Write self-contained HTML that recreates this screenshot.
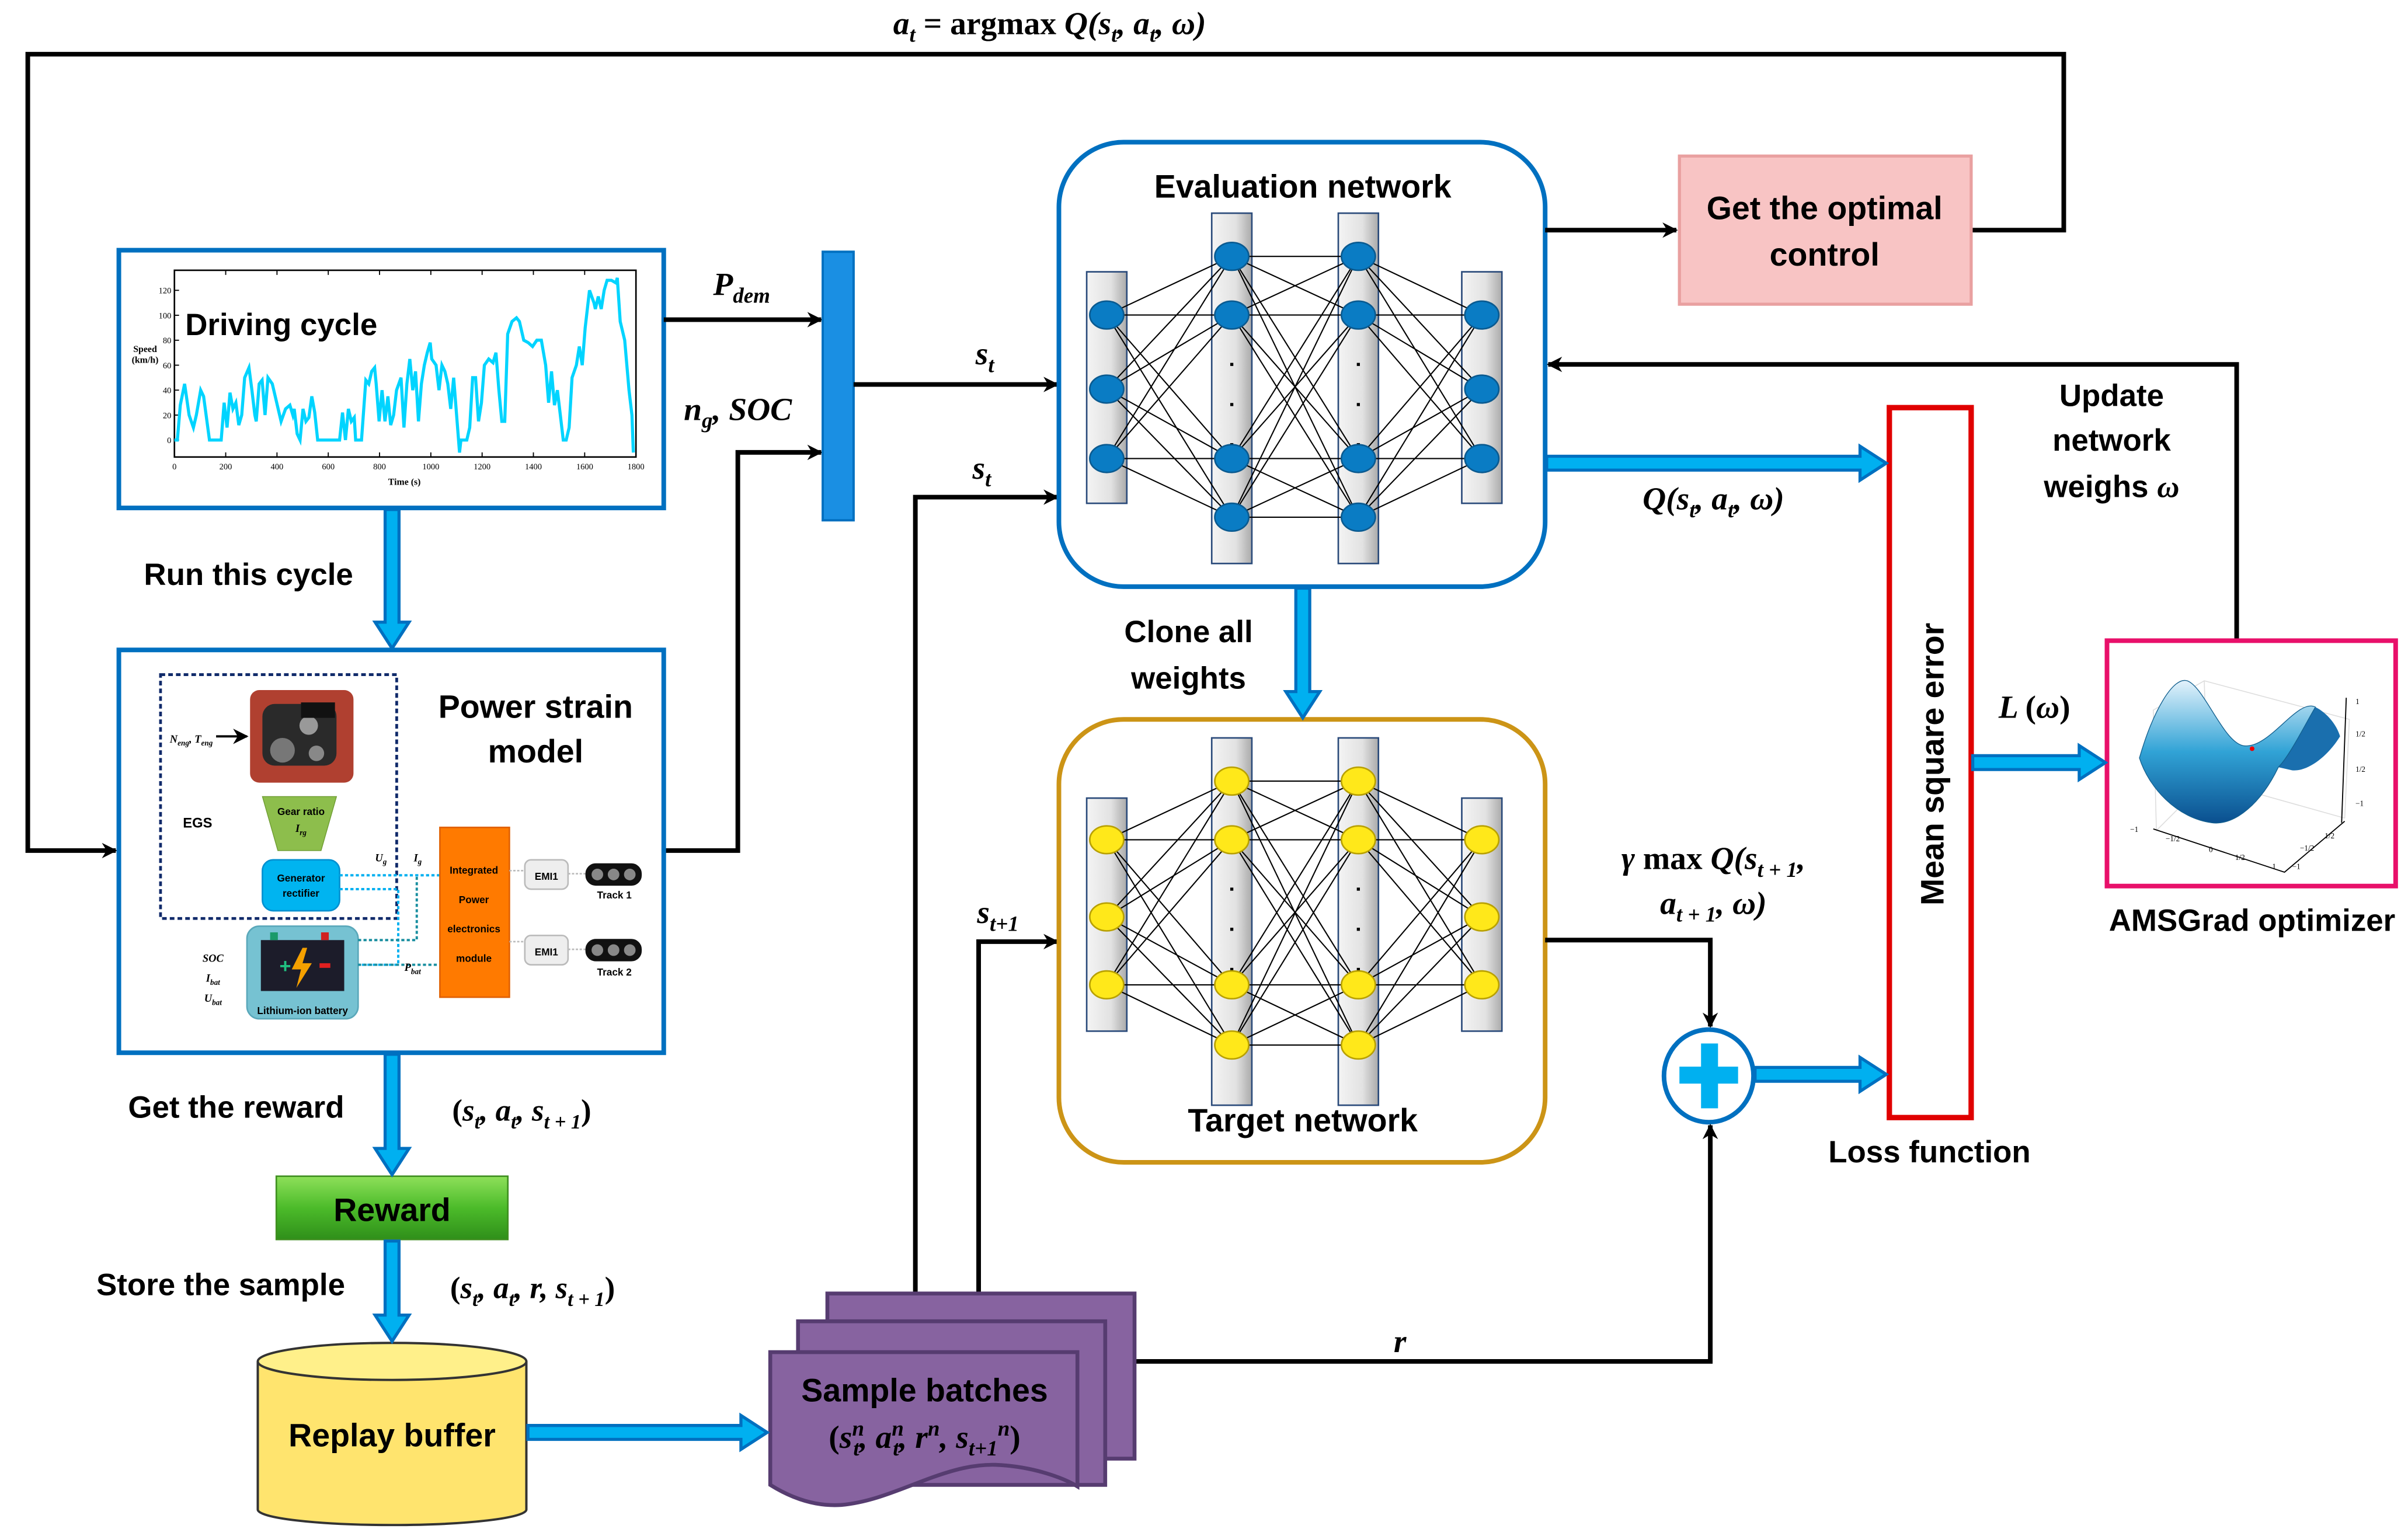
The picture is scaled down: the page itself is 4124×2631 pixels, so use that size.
<!DOCTYPE html>
<html><head><meta charset="utf-8">
<style>
html,body{margin:0;padding:0;background:#fff;width:4124px;height:2631px;overflow:hidden}
svg{display:block}
.b{font-family:"Liberation Sans",sans-serif;font-weight:bold;fill:#000}
.m{font-family:"Liberation Serif",serif;font-weight:bold;font-style:italic;fill:#000}
.n{font-family:"Liberation Serif",serif;font-weight:bold;fill:#000}
</style></head><body>
<svg id="s" width="4124" height="2631" viewBox="0 0 1560 995" xmlns="http://www.w3.org/2000/svg">
<defs>
<marker id="ah" markerWidth="10" markerHeight="10" refX="9" refY="5" orient="auto" markerUnits="userSpaceOnUse" viewBox="0 0 10 10">
<path d="M0,0 L10,5 L0,10 L3,5 z" fill="#000"/></marker>
<linearGradient id="gr" x1="0" y1="0" x2="0" y2="1"><stop offset="0" stop-color="#8ee05a"/><stop offset="0.5" stop-color="#4cbb2a"/><stop offset="1" stop-color="#2f8f1a"/></linearGradient>
<linearGradient id="sad" x1="0" y1="0" x2="0" y2="1"><stop offset="0" stop-color="#e4f2fb"/><stop offset="0.5" stop-color="#31a3d6"/><stop offset="1" stop-color="#0a4f8f"/></linearGradient>
<linearGradient id="bar" x1="0" y1="0" x2="1" y2="0"><stop offset="0" stop-color="#f4f4f4"/><stop offset="0.6" stop-color="#e2e2e2"/><stop offset="1" stop-color="#aaa"/></linearGradient>
</defs>

<polyline points="1277,149 1337,149 1337,35 18,35 18,551 75,551" fill="none" stroke="#000" stroke-width="3" marker-end="url(#ah)"/>
<text x="680" y="22" text-anchor="middle" class="m" font-size="21"><tspan>a</tspan><tspan font-size="14" dy="5">t</tspan><tspan dy="-5" font-style="normal"> = argmax </tspan><tspan>Q(s</tspan><tspan font-size="14" dy="5">t</tspan><tspan dy="-5">, a</tspan><tspan font-size="14" dy="5">t</tspan><tspan dy="-5">, ω)</tspan></text>

<rect x="77" y="162" width="353" height="167" fill="#fff" stroke="#0070c0" stroke-width="3"/>
<rect x="113" y="175" width="299" height="121" fill="none" stroke="#000" stroke-width="1"/>
<g id="axis"></g>
<polyline id="cyc" fill="none" stroke="#00d4ff" stroke-width="2"/>
<text x="120" y="217" class="b" font-size="20">Driving cycle</text>
<text x="94" y="228" class="n" font-size="6" font-weight="normal" text-anchor="middle">Speed</text>
<text x="94" y="235" class="n" font-size="6" font-weight="normal" text-anchor="middle">(km/h)</text>
<text x="262" y="314" class="n" font-size="6" font-weight="normal" text-anchor="middle">Time (s)</text>

<line x1="430" y1="207" x2="532" y2="207" stroke="#000" stroke-width="3" marker-end="url(#ah)"/>
<text x="462" y="191" class="m" font-size="21">P<tspan font-size="14" dy="5">dem</tspan></text>
<polyline points="430,551 478,551 478,293 532,293" fill="none" stroke="#000" stroke-width="3" marker-end="url(#ah)"/>
<text x="443" y="272" class="m" font-size="21">n<tspan font-size="14" dy="5">g</tspan><tspan dy="-5">, SOC</tspan></text>
<rect x="533" y="163" width="20" height="174" fill="#1a8fe3" stroke="#0070c0" stroke-width="1.5"/>

<line x1="553" y1="249" x2="685" y2="249" stroke="#000" stroke-width="3" marker-end="url(#ah)"/>
<text x="632" y="236" class="m" font-size="21">s<tspan font-size="14" dy="5">t</tspan></text>
<polyline points="593,838 593,322 685,322" fill="none" stroke="#000" stroke-width="3" marker-end="url(#ah)"/>
<text x="630" y="310" class="m" font-size="21">s<tspan font-size="14" dy="5">t</tspan></text>
<polyline points="634,838 634,610 685,610" fill="none" stroke="#000" stroke-width="3" marker-end="url(#ah)"/>
<text x="633" y="598" class="m" font-size="21">s<tspan font-size="14" dy="5">t+1</tspan></text>

<rect x="686" y="92" width="315" height="288" rx="42" fill="#fff" stroke="#0070c0" stroke-width="3"/>
<text x="844" y="128" text-anchor="middle" class="b" font-size="21">Evaluation network</text>
<g id="net1"></g>
<rect x="686" y="466" width="315" height="287" rx="42" fill="#fff" stroke="#cc9416" stroke-width="3"/>
<text x="844" y="733" text-anchor="middle" class="b" font-size="21">Target network</text>
<g id="net2"></g>

<text x="770" y="416" text-anchor="middle" class="b" font-size="20">Clone all</text>
<text x="770" y="446" text-anchor="middle" class="b" font-size="20">weights</text>

<line x1="1001" y1="149" x2="1086" y2="149" stroke="#000" stroke-width="3" marker-end="url(#ah)"/>
<rect x="1088" y="101" width="189" height="96" fill="#f8c4c4" stroke="#e9a0a0" stroke-width="2"/>
<text x="1182" y="142" text-anchor="middle" class="b" font-size="21">Get the optimal</text>
<text x="1182" y="172" text-anchor="middle" class="b" font-size="21">control</text>

<polyline points="1449,415 1449,236 1003,236" fill="none" stroke="#000" stroke-width="3" marker-end="url(#ah)"/>
<text x="1368" y="263" text-anchor="middle" class="b" font-size="20">Update</text>
<text x="1368" y="292" text-anchor="middle" class="b" font-size="20">network</text>
<text x="1368" y="322" text-anchor="middle" class="b" font-size="20">weighs <tspan class="m">ω</tspan></text>

<text x="1110" y="330" text-anchor="middle" class="m" font-size="21">Q(s<tspan font-size="14" dy="5">t</tspan><tspan dy="-5">, a</tspan><tspan font-size="14" dy="5">t</tspan><tspan dy="-5">, ω)</tspan></text>

<rect x="1224" y="264" width="53" height="460" fill="#fff" stroke="#e00000" stroke-width="3.5"/>
<text transform="translate(1259,495) rotate(-90)" text-anchor="middle" class="b" font-size="21">Mean square error</text>
<text x="1250" y="753" text-anchor="middle" class="b" font-size="20">Loss function</text>
<text x="1318" y="465" text-anchor="middle" class="m" font-size="21">L <tspan font-style="normal">(</tspan>ω<tspan font-style="normal">)</tspan></text>

<rect x="1365" y="415" width="187" height="159" fill="#fff" stroke="#e8106a" stroke-width="3"/>
<g stroke="#ddd" stroke-width="0.6" fill="none">
<polyline points="1397,538 1395,460 1428,441 1522,466 1519,530"/>
<line x1="1428" y1="441" x2="1430" y2="505"/>
<line x1="1430" y1="505" x2="1397" y2="538"/><line x1="1430" y1="505" x2="1519" y2="530"/>
</g>
<path d="M1476,497 C1485,480 1495,456 1500,458 C1508,462 1514,470 1516,477 C1508,490 1495,500 1485,499 Z" fill="#1a6fae"/>
<path d="M1386,491 C1395,460 1408,438 1417,441 C1428,445 1440,480 1453,483 C1470,486 1488,452 1500,458 C1493,470 1483,490 1476,497 C1465,520 1448,535 1433,533 C1410,530 1392,510 1386,491 Z" fill="url(#sad)" stroke="#13608f" stroke-width="0.5"/>
<circle cx="1459" cy="485" r="1.5" fill="#e00"/>
<g stroke="#000" stroke-width="0.7" fill="none"><polyline points="1395,537 1480,565 1519,532"/><line x1="1520" y1="452" x2="1517" y2="533"/></g>
<g font-family="Liberation Serif" font-size="5" fill="#000"><text x="1380" y="539">−1</text><text x="1403" y="545">−1/2</text><text x="1431" y="552">0</text><text x="1448" y="557">1/2</text><text x="1472" y="563">1</text><text x="1485" y="563">−1</text><text x="1490" y="551">−1/2</text><text x="1506" y="543">1/2</text><text x="1526" y="456">1</text><text x="1526" y="477">1/2</text><text x="1526" y="500">1/2</text><text x="1526" y="522">−1</text></g>
<text x="1459" y="603" text-anchor="middle" class="b" font-size="20">AMSGrad optimizer</text>

<polyline points="1001,609 1108,609 1108,665" fill="none" stroke="#000" stroke-width="3" marker-end="url(#ah)"/>
<text x="1110" y="563" text-anchor="middle" class="m" font-size="21"><tspan>γ</tspan><tspan font-style="normal"> max </tspan>Q(s<tspan font-size="14" dy="5">t + 1</tspan><tspan dy="-5">,</tspan></text>
<text x="1110" y="592" text-anchor="middle" class="m" font-size="21">a<tspan font-size="14" dy="5">t + 1</tspan><tspan dy="-5">, ω)</tspan></text>
<ellipse cx="1107" cy="697" rx="29" ry="30" fill="#fff" stroke="#0070c0" stroke-width="3"/>
<rect x="1088" y="691" width="38" height="11" fill="#00b0f0"/>
<rect x="1102" y="676" width="11" height="42" fill="#00b0f0"/>
<polyline points="735,882 1108,882 1108,729" fill="none" stroke="#000" stroke-width="3" marker-end="url(#ah)"/>
<text x="907" y="876" text-anchor="middle" class="m" font-size="21">r</text>

<rect x="77" y="421" width="353" height="261" fill="#fff" stroke="#0070c0" stroke-width="3"/>
<text x="347" y="465" text-anchor="middle" class="b" font-size="21">Power strain</text>
<text x="347" y="494" text-anchor="middle" class="b" font-size="21">model</text>
<rect x="104" y="437" width="153" height="158" fill="none" stroke="#102a6a" stroke-width="1.8" stroke-dasharray="3,2"/>
<rect x="162" y="447" width="67" height="60" rx="6" fill="#b04030"/>
<g><rect x="170" y="456" width="48" height="40" rx="8" fill="#2a2a2a"/><circle cx="183" cy="486" r="8" fill="#777"/><circle cx="200" cy="470" r="6" fill="#999"/><rect x="195" y="455" width="22" height="10" fill="#111"/><circle cx="205" cy="488" r="5" fill="#888"/></g>
<text x="110" y="481" class="m" font-size="7" font-weight="normal">N<tspan font-size="5" dy="2">eng</tspan><tspan dy="-2">, T</tspan><tspan font-size="5" dy="2">eng</tspan></text>
<line x1="140" y1="477" x2="160" y2="477" stroke="#000" stroke-width="1.5" marker-end="url(#ah)"/>
<polygon points="170,516 218,516 208,551 180,551" fill="#8dbe4c" stroke="#6c9a30" stroke-width="0.5"/>
<text x="195" y="528" text-anchor="middle" class="b" font-size="6.5">Gear ratio</text>
<text x="195" y="539" text-anchor="middle" class="m" font-size="7">I<tspan font-size="5" dy="2">rg</tspan></text>
<text x="128" y="536" text-anchor="middle" class="b" font-size="9" font-weight="normal">EGS</text>
<rect x="170" y="557" width="50" height="33" rx="7" fill="#00b4f0" stroke="#0090d0"/>
<text x="195" y="571" text-anchor="middle" class="b" font-size="6.5">Generator</text>
<text x="195" y="581" text-anchor="middle" class="b" font-size="6.5">rectifier</text>
<rect x="160" y="600" width="72" height="60" rx="8" fill="#76c2d2" stroke="#5aa8ba"/>
<rect x="169" y="609" width="54" height="33" fill="#1c1c2a"/><rect x="175" y="604" width="5" height="5" fill="#1a9a6a"/><rect x="208" y="604" width="5" height="5" fill="#d02020"/>
<text x="181" y="630" font-size="13" fill="#20c080" font-family="Liberation Sans" font-weight="bold">+</text>
<polygon points="196,614 189,628 195,628 192,640 202,624 196,624 199,614" fill="#f5a000"/>
<rect x="207" y="624" width="7" height="3" fill="#e02020"/>
<text x="196" y="657" text-anchor="middle" class="b" font-size="6.5">Lithium-ion battery</text>
<text x="138" y="623" text-anchor="middle" class="m" font-size="7" font-weight="normal">SOC</text>
<text x="138" y="636" text-anchor="middle" class="m" font-size="7" font-weight="normal">I<tspan font-size="5" dy="2">bat</tspan></text>
<text x="138" y="649" text-anchor="middle" class="m" font-size="7" font-weight="normal">U<tspan font-size="5" dy="2">bat</tspan></text>
<g fill="none" stroke-width="1.5" stroke-dasharray="2,1.5">
<polyline points="220,567 285,567" stroke="#00b0f0"/>
<polyline points="220,576 258,576 258,625 232,625" stroke="#00b0f0"/>
<polyline points="232,609 270,609 270,567" stroke="#1a8fa0"/>
<polyline points="232,625 284,625" stroke="#1a8fa0"/>
</g>
<text x="243" y="558" class="m" font-size="7" font-weight="normal">U<tspan font-size="5" dy="2">g</tspan></text>
<text x="268" y="558" class="m" font-size="7" font-weight="normal">I<tspan font-size="5" dy="2">g</tspan></text>
<text x="262" y="629" class="m" font-size="7" font-weight="normal">P<tspan font-size="5" dy="2">bat</tspan></text>
<rect x="285" y="536" width="45" height="110" fill="#ff7a00" stroke="#e06000"/>
<g text-anchor="middle" class="b" font-size="6.5"><text x="307" y="566">Integrated</text><text x="307" y="585">Power</text><text x="307" y="604">electronics</text><text x="307" y="623">module</text></g>
<g stroke="#bbb" stroke-dasharray="1.5,1"><line x1="330" y1="564" x2="340" y2="564"/><line x1="330" y1="610" x2="340" y2="610"/><line x1="368" y1="566" x2="380" y2="566"/><line x1="368" y1="615" x2="380" y2="615"/></g>
<rect x="340" y="557" width="28" height="19" rx="4" fill="#eee" stroke="#bbb"/>
<rect x="340" y="606" width="28" height="19" rx="4" fill="#eee" stroke="#bbb"/>
<text x="354" y="570" text-anchor="middle" class="b" font-size="6.5" font-weight="normal">EMI1</text>
<text x="354" y="619" text-anchor="middle" class="b" font-size="6.5" font-weight="normal">EMI1</text>
<g fill="#888" stroke="#111" stroke-width="1.5"><rect x="380" y="560" width="35" height="13" rx="6" fill="#111"/><circle cx="387" cy="566.5" r="4.5"/><circle cx="397.5" cy="566.5" r="4.5"/><circle cx="408" cy="566.5" r="4.5"/>
<rect x="380" y="609" width="35" height="13" rx="6" fill="#111"/><circle cx="387" cy="615.5" r="4.5"/><circle cx="397.5" cy="615.5" r="4.5"/><circle cx="408" cy="615.5" r="4.5"/></g>
<text x="398" y="582" text-anchor="middle" class="b" font-size="6.5" font-weight="normal">Track 1</text>
<text x="398" y="632" text-anchor="middle" class="b" font-size="6.5" font-weight="normal">Track 2</text>

<text x="161" y="379" text-anchor="middle" class="b" font-size="20">Run this cycle</text>
<text x="153" y="724" text-anchor="middle" class="b" font-size="20">Get the reward</text>
<text x="338" y="726" text-anchor="middle" class="m" font-size="20"><tspan font-style="normal">(</tspan>s<tspan font-size="13" dy="5">t</tspan><tspan dy="-5">, a</tspan><tspan font-size="13" dy="5">t</tspan><tspan dy="-5">, s</tspan><tspan font-size="13" dy="5">t + 1</tspan><tspan dy="-5" font-style="normal">)</tspan></text>
<rect x="179" y="762" width="150" height="41" fill="url(#gr)" stroke="#3f8f20"/>
<text x="254" y="791" text-anchor="middle" class="b" font-size="21">Reward</text>
<text x="143" y="839" text-anchor="middle" class="b" font-size="20">Store the sample</text>
<text x="345" y="841" text-anchor="middle" class="m" font-size="20"><tspan font-style="normal">(</tspan>s<tspan font-size="13" dy="5">t</tspan><tspan dy="-5">, a</tspan><tspan font-size="13" dy="5">t</tspan><tspan dy="-5">, r, s</tspan><tspan font-size="13" dy="5">t + 1</tspan><tspan dy="-5" font-style="normal">)</tspan></text>

<path d="M167,882 L167,978 A87,10 0 0 0 341,978 L341,882" fill="#ffe46e" stroke="#333" stroke-width="1.5"/>
<ellipse cx="254" cy="882" rx="87" ry="12" fill="#fff08a" stroke="#333" stroke-width="1.5"/>
<text x="254" y="937" text-anchor="middle" class="b" font-size="21">Replay buffer</text>

<rect x="536" y="838" width="199" height="107" fill="#8763a0" stroke="#563c70" stroke-width="2.5"/>
<rect x="517" y="856" width="199" height="106" fill="#8763a0" stroke="#563c70" stroke-width="2.5"/>
<path d="M499,876 L698,876 L698,963 C690,958 670,950 645,949 C610,948 580,972 545,975 C530,976 515,972 499,962 Z" fill="#8763a0" stroke="#563c70" stroke-width="2.5"/>
<text x="599" y="908" text-anchor="middle" class="b" font-size="21">Sample batches</text>
<text x="599" y="938" text-anchor="middle" class="m" font-size="21"><tspan font-style="normal">(</tspan>s<tspan font-size="14" dy="-8">n</tspan><tspan font-size="14" dx="-7" dy="13">t</tspan><tspan dy="-5">, a</tspan><tspan font-size="14" dy="-8">n</tspan><tspan font-size="14" dx="-7" dy="13">t</tspan><tspan dy="-5">, r</tspan><tspan font-size="14" dy="-8">n</tspan><tspan dy="8">, s</tspan><tspan font-size="14" dy="5">t+1</tspan><tspan font-size="14" dy="-13">n</tspan><tspan dy="8" font-style="normal">)</tspan></text>

<g id="thick"></g>
</svg>
<script>
var NS="http://www.w3.org/2000/svg";
function el(p,t,a){var e=document.createElementNS(NS,t);for(var k in a)e.setAttribute(k,a[k]);p.appendChild(e);return e;}
var th=document.getElementById('thick');
function tarrow(x1,y1,x2,y2){var w=4.5,hw=11,hl=17;var dx=x2-x1,dy=y2-y1,L=Math.hypot(dx,dy),ux=dx/L,uy=dy/L,px=-uy,py=ux;var bx=x2-ux*hl,by=y2-uy*hl;
var pts=[[x1+px*w,y1+py*w],[bx+px*w,by+py*w],[bx+px*hw,by+py*hw],[x2,y2],[bx-px*hw,by-py*hw],[bx-px*w,by-py*w],[x1-px*w,y1-py*w]];
el(th,'polygon',{points:pts.map(function(p){return p.join(',')}).join(' '),fill:'#00b0f0',stroke:'#0070c0','stroke-width':2,'stroke-linejoin':'miter'});}
tarrow(254,330,254,420);tarrow(254,683,254,761);tarrow(254,804,254,869);
tarrow(342,928,497,928);tarrow(844,381,844,465);tarrow(1002,300,1222,300);
tarrow(1137,696,1222,696);tarrow(1278,494,1364,494);
function net(id,color,stroke,bars,nodes){var g=document.getElementById(id);
var xs=[717,798,880,960];
bars.forEach(function(b,i){el(g,'rect',{x:xs[i]-13,y:b[0],width:26,height:b[1]-b[0],fill:'url(#bar)',stroke:'#2a4a7a','stroke-width':1});});
for(var i=0;i<3;i++){nodes[i].forEach(function(a){nodes[i+1].forEach(function(b){el(g,'line',{x1:xs[i],y1:a,x2:xs[i+1],y2:b,stroke:'#000','stroke-width':0.8});});});}
[1,2].forEach(function(i){var ys=nodes[i];[ys[1]+32,ys[1]+58,ys[1]+84].forEach(function(y){el(g,'rect',{x:xs[i]-1,y:y-1,width:2,height:2,fill:'#000'});});});
nodes.forEach(function(ys,i){ys.forEach(function(y){el(g,'ellipse',{cx:xs[i],cy:y,rx:11,ry:9,fill:color,stroke:stroke,'stroke-width':1});});});}
net('net1','#0a7cc4','#0a5a90',[[176,326],[138,365],[138,365],[176,326]],[[204,252,297],[166,204,297,335],[166,204,297,335],[204,252,297]]);
net('net2','#ffe81a','#b8a000',[[517,668],[478,716],[478,716],[517,668]],[[544,594,638],[506,544,638,677],[506,544,638,677],[544,594,638]]);
var ax=document.getElementById('axis');
function X(t){return 113+t/1800*299;}function Y(v){return 285-v*97/120;}
for(var t=0;t<=1800;t+=200){el(ax,'line',{x1:X(t),y1:296,x2:X(t),y2:293,stroke:'#000','stroke-width':0.7});el(ax,'line',{x1:X(t),y1:175,x2:X(t),y2:178,stroke:'#000','stroke-width':0.7});var tx=el(ax,'text',{x:X(t),y:304,'text-anchor':'middle','font-size':5.5,'font-family':'Liberation Serif'});tx.textContent=t;}
for(var v=0;v<=120;v+=20){el(ax,'line',{x1:113,y1:Y(v),x2:116,y2:Y(v),stroke:'#000','stroke-width':0.7});var ty=el(ax,'text',{x:111,y:Y(v)+2,'text-anchor':'end','font-size':5.5,'font-family':'Liberation Serif'});ty.textContent=v;}
var P=[0,0,10,0,20,28,35,45,50,20,65,10,75,20,90,40,100,35,120,0,160,0,170,30,180,10,190,38,200,25,210,30,220,12,230,20,240,50,255,58,265,40,275,20,280,15,290,45,300,48,310,20,320,50,335,45,345,35,355,25,365,15,380,25,395,28,405,20,410,25,420,5,430,0,440,25,450,15,460,18,470,35,480,22,490,0,565,0,575,22,585,0,595,25,605,15,615,18,620,0,640,0,655,48,665,45,675,55,685,58,690,45,700,15,710,40,720,15,730,35,740,12,750,20,760,40,775,50,785,10,795,45,805,65,815,40,825,55,835,15,845,45,855,60,865,70,875,78,880,65,895,60,905,40,915,60,925,55,935,45,945,25,955,50,965,20,975,-10,980,0,1000,0,1010,10,1020,50,1030,50,1040,15,1050,30,1060,60,1075,65,1090,62,1100,70,1110,40,1120,15,1130,15,1140,85,1155,95,1170,98,1180,95,1195,80,1210,78,1225,75,1240,80,1255,80,1270,60,1280,30,1290,55,1300,28,1310,40,1320,20,1330,0,1340,0,1350,10,1360,50,1375,60,1385,75,1395,60,1405,90,1420,120,1435,110,1440,105,1450,115,1460,105,1470,120,1480,128,1495,128,1510,126,1515,130,1525,95,1540,80,1555,40,1565,20,1570,-10];
var s=[];for(var i=0;i<P.length;i+=2){s.push(X(P[i]*1790/1570).toFixed(1)+','+Y(P[i+1]).toFixed(1));}
document.getElementById('cyc').setAttribute('points',s.join(' '));
</script>
</body></html>
